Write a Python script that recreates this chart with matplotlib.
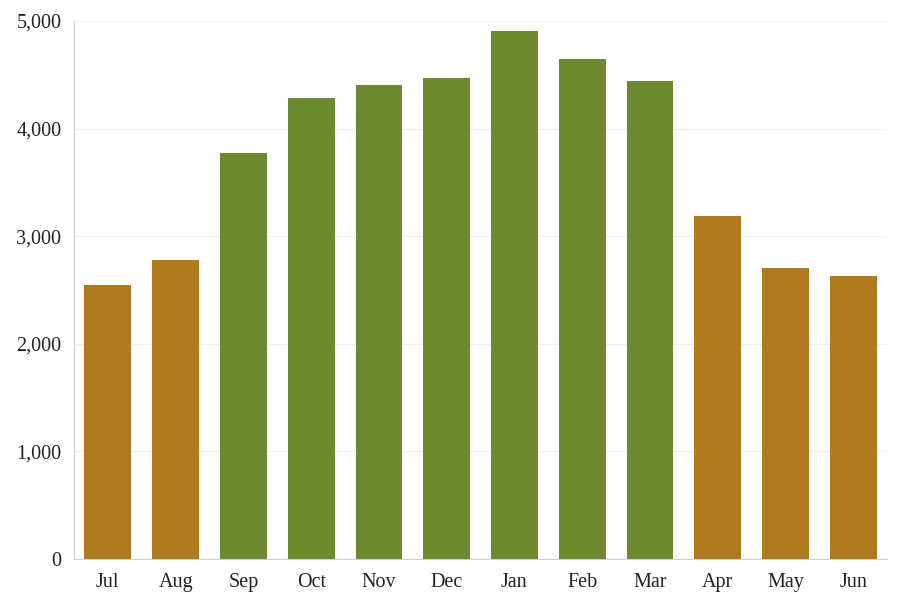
import matplotlib
matplotlib.use('Agg')
import matplotlib.pyplot as plt
from matplotlib.ticker import FuncFormatter

months = ['Jul', 'Aug', 'Sep', 'Oct', 'Nov', 'Dec', 'Jan', 'Feb', 'Mar', 'Apr', 'May', 'Jun']
values = [2550, 2780, 3770, 4285, 4405, 4475, 4905, 4650, 4440, 3185, 2705, 2630]
season = ['dry', 'dry', 'wet', 'wet', 'wet', 'wet', 'wet', 'wet', 'wet', 'dry', 'dry', 'dry']

ColorDry = '#B07A1E'
ColorWet = '#6E8A2F'
colors = [ColorWet if s == 'wet' else ColorDry for s in season]

plt.rcParams['font.family'] = ['Liberation Serif', 'DejaVu Serif']

fig = plt.figure(figsize=(8.99, 5.94), dpi=100)
ax = fig.add_axes([0.0823, 0.0589, 0.9044, 0.9057])

ax.bar(range(len(months)), values, width=0.69, color=colors, zorder=3)

ax.set_xlim(-0.5, len(months) - 0.5)
ax.set_ylim(0, 5000)
ax.set_yticks([0, 1000, 2000, 3000, 4000, 5000])
ax.yaxis.set_major_formatter(FuncFormatter(lambda v, p: f'{int(v):,}'))
ax.set_xticks(range(len(months)))
ax.set_xticklabels(months)

ax.grid(axis='y', color='#f0f0f0', linewidth=1, zorder=0)
for s in ['top', 'right']:
    ax.spines[s].set_visible(False)
ax.spines['left'].set_color('#d0d0d0')
ax.spines['bottom'].set_color('#d0d0d0')
ax.tick_params(axis='both', length=0, labelsize=14.5, colors='#222222')
ax.tick_params(axis='x', pad=10)
ax.tick_params(axis='y', pad=9)

fig.savefig('out.png', dpi=100)
